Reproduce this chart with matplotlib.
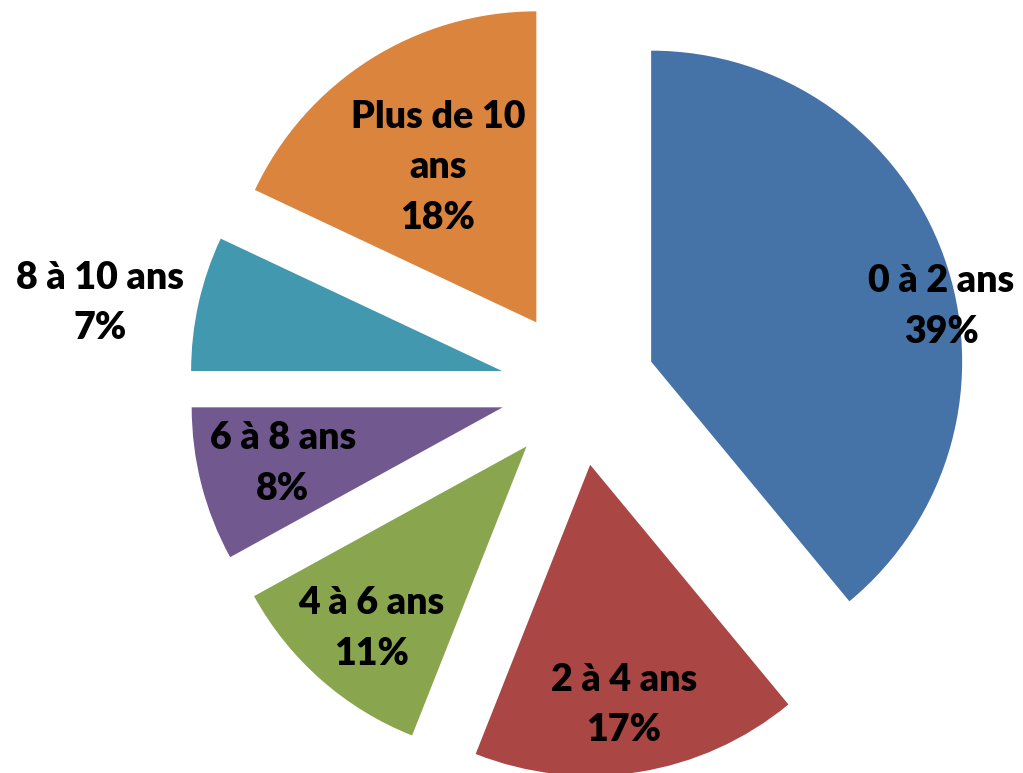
import matplotlib
matplotlib.use("Agg")
import matplotlib.pyplot as plt
import numpy as np

categories = ["0 à 2 ans", "2 à 4 ans", "4 à 6 ans", "6 à 8 ans", "8 à 10 ans", "Plus de 10\nans"]
values = [39, 17, 11, 8, 7, 18]
colors = ["#4572A7", "#AA4643", "#89A54E", "#71588F", "#4198AF", "#DB843D"]

# label placement per slice: radial fraction and angle offset (deg) from bisector
label_r = [0.95, 0.78, 0.77, 0.73, 1.31, 0.59]
label_da = [-9, -1, 1, 0, 3, 0]

explode_d = 0.25

fig = plt.figure(figsize=(10.23, 7.73), dpi=100)
ax = fig.add_axes([0, 0, 1, 1])

wedges, _ = ax.pie(values, colors=colors, startangle=90, counterclock=False,
                   explode=[explode_d] * len(values), radius=1.0,
                   wedgeprops=dict(linewidth=0))

total = sum(values)
for w, cat, v, r, da in zip(wedges, categories, values, label_r, label_da):
    mid = np.deg2rad((w.theta1 + w.theta2) / 2)
    cx = explode_d * np.cos(mid)
    cy = explode_d * np.sin(mid)
    a = mid + np.deg2rad(da)
    x = cx + r * np.cos(a)
    y = cy + r * np.sin(a)
    ax.text(x, y, f"{cat}\n{round(100 * v / total)}%", ha="center", va="center",
            fontsize=27, fontweight="heavy", family="Lato", linespacing=1.6,
            color="black")

# pixel scale: radius ~311 px, pie centre at (578, 388) in image coords
R = 311.0
ax.set_xlim(-578 / R, (1023 - 578) / R)
ax.set_ylim(-(773 - 388) / R, 388 / R)
ax.set_aspect("auto")
ax.axis("off")

fig.savefig("out.png", dpi=100)
